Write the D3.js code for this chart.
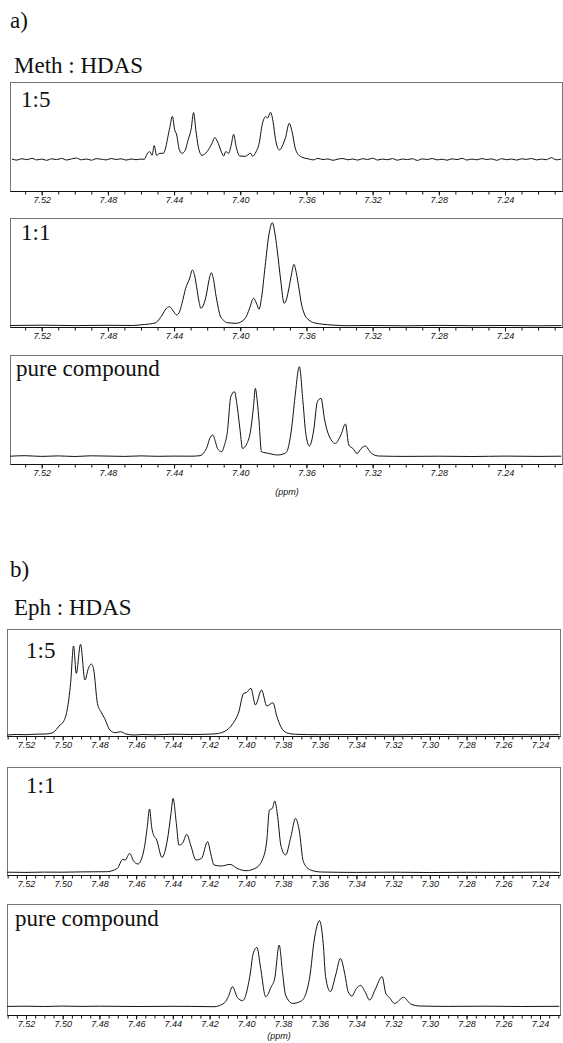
<!DOCTYPE html>
<html>
<head>
<meta charset="utf-8">
<script src="https://cdn.jsdelivr.net/npm/d3@7"></script>
<style>
    body { margin: 0; background: #fff; }
    svg { display: block; }
    .lbl { font-family: "Liberation Serif", "Times New Roman", serif; font-size: 23px; fill: #111; }
    .axis text { font-family: "Liberation Sans", Arial, sans-serif; font-style: italic; font-size: 9px; fill: #111; }
    .axis line { stroke: #111; }
    .unit { font-family: "Liberation Sans", Arial, sans-serif; font-style: italic; font-size: 9px; fill: #111; }
</style>
</head>
<body>
<div id="chart"></div>
<script>

// Tick labels (ppm)
var aTickLabels = [7.52, 7.48, 7.44, 7.40, 7.36, 7.32, 7.28, 7.24];
var bTickLabels = [7.52, 7.50, 7.48, 7.46, 7.44, 7.42, 7.40, 7.38, 7.36, 7.34, 7.32, 7.30, 7.28, 7.26, 7.24];

// a) Meth : HDAS 1:5  -- [ppm, intensity]
var methRatio15 = [
    [7.538,0.3],[7.535,-0.8],[7.532,0.6],[7.529,-0.4],[7.526,1.0],[7.523,-0.6],[7.520,0.2],[7.517,-1.0],
    [7.514,0.5],[7.511,-0.3],[7.508,0.9],[7.505,-0.7],[7.502,0.4],[7.499,1.2],[7.496,-0.5],[7.493,0.3],
    [7.490,-0.9],[7.487,0.6],[7.484,0.1],[7.481,-0.6],[7.478,0.8],[7.475,-0.2],[7.472,0.5],[7.469,-0.8],
    [7.466,0.3],[7.463,-0.4],[7.460,0.2],[7.458,0.0],
    [7.4563,5.3],[7.4548,7.7],[7.4533,4],[7.452,13.7],[7.4506,4],[7.4485,6],[7.4465,6],[7.4428,30],
    [7.441,43],[7.4397,30],[7.4384,24.3],[7.4369,10],[7.4352,6],[7.4336,8],[7.4314,20],[7.4297,30],
    [7.4282,46.7],[7.4269,30],[7.4253,12],[7.4232,4],[7.4199,8],[7.4171,16],[7.4155,21.7],[7.4133,16],
    [7.4118,9],[7.41,3.3],[7.4088,7.7],[7.407,6],[7.4055,14],[7.404,25],[7.4024,12],[7.4003,3.3],
    [7.397,3],[7.3937,6],[7.3926,3],[7.3904,7.7],[7.3887,15],[7.3867,35],[7.3846,42.7],[7.3835,41.3],
    [7.3817,47],[7.3802,38],[7.3787,20],[7.3763,9.3],[7.3741,15],[7.3726,22],[7.3704,36],[7.3686,27],
    [7.3669,12],[7.3651,5],[7.3621,1.7],
    [7.359,0.5],[7.356,-0.6],[7.353,0.9],[7.350,-0.3],[7.347,0.4],[7.344,-1.0],[7.341,0.2],[7.338,0.8],
    [7.335,-0.5],[7.332,0.3],[7.329,-0.8],[7.326,0.6],[7.323,-0.2],[7.320,1.1],[7.317,-0.7],[7.314,0.2],
    [7.311,-0.4],[7.308,0.7],[7.305,-0.9],[7.302,0.3],[7.299,-0.3],[7.296,0.6],[7.293,-1.1],[7.290,0.4],
    [7.287,-0.2],[7.284,0.8],[7.281,-0.6],[7.278,0.1],[7.275,-0.9],[7.272,0.5],[7.269,-0.3],[7.266,0.9],
    [7.263,-0.7],[7.260,0.2],[7.257,-0.5],[7.254,0.7],[7.251,-0.2],[7.248,0.4],[7.245,-1.0],[7.242,0.6],
    [7.239,-0.4],[7.236,0.3],[7.233,-0.8],[7.230,0.5],[7.227,-0.1],[7.224,0.8],[7.221,-0.6],[7.218,0.2],
    [7.215,-0.4],[7.212,1.6],[7.209,-0.5],[7.206,0.3]
];

// a) Meth : HDAS 1:1
var methRatio11 = [
    [7.539,0.5],[7.52,0.8],[7.50,0.4],[7.48,0.7],[7.465,0.5],[7.4624,0.8],[7.458,1.5],[7.4515,3],
    [7.4472,11],[7.445,17],[7.4428,19.3],[7.4405,15],[7.4384,11],[7.4365,15],[7.4352,22.7],[7.433,37.7],
    [7.4305,48],[7.429,56],[7.4275,50],[7.4264,39.3],[7.425,25],[7.4238,17.7],[7.422,22],[7.4205,31],
    [7.419,45],[7.4175,53.3],[7.416,45],[7.4149,32.7],[7.4135,20],[7.4123,11],[7.410,5.5],[7.4079,3.3],
    [7.4024,2.7],[7.397,7.7],[7.3945,17],[7.392,27.7],[7.390,22],[7.3887,16.7],[7.387,30],[7.385,59.3],
    [7.3828,90],[7.3806,103.3],[7.379,92],[7.3778,77.7],[7.3755,45],[7.3735,22.7],[7.372,27],[7.3708,36],
    [7.369,52],[7.3676,61.7],[7.366,52],[7.3647,39.3],[7.363,22],[7.361,11],[7.3585,6],[7.3556,3.3],
    [7.3446,1],[7.335,0.3],[7.32,0.5],[7.30,0.2],[7.28,0.6],[7.26,0.3],[7.24,0.5],[7.22,0.2],[7.206,0.4]
];

// a) Meth pure compound
var methPure = [
    [7.539,0.5],[7.53,1],[7.52,0.3],[7.51,0.8],[7.50,0.2],[7.49,0.9],[7.48,0.6],[7.47,0.3],[7.46,0.8],
    [7.45,0.4],[7.44,0.6],[7.43,0.5],[7.4243,1],[7.422,4],[7.42,10],[7.4185,18],[7.4166,21.7],[7.415,15],
    [7.4138,8.3],[7.4112,5],[7.4095,12],[7.4079,23.3],[7.4057,60],[7.4035,65],[7.402,52],[7.4013,43.3],
    [7.400,25],[7.3987,8.3],[7.396,13],[7.3937,26.7],[7.392,50],[7.3909,68.3],[7.3897,55],[7.3887,36.7],
    [7.3872,5],[7.3828,3.3],[7.3774,1.7],[7.3735,3],[7.3719,5],[7.3691,26.7],[7.3669,60],[7.3643,90],
    [7.3621,55],[7.3604,23.3],[7.3582,10.7],[7.3556,26.7],[7.3534,55],[7.3512,58.3],[7.349,36.7],
    [7.3469,23.3],[7.3425,13.3],[7.3392,21.7],[7.3364,32.7],[7.3344,11.7],[7.332,8.3],[7.3294,3.3],
    [7.327,8],[7.3244,10.7],[7.322,6],[7.3207,3.3],[7.3163,0.7],[7.30,0.3],[7.28,0.5],[7.26,0.2],
    [7.24,0.6],[7.22,0.3],[7.206,0.5]
];

// b) Eph : HDAS 1:5
var ephRatio15 = [
    [7.5303,0],[7.525,0.5],[7.52,0.3],[7.515,0.8],[7.5093,1],[7.5054,2.3],[7.5015,10],[7.4996,13.3],
    [7.4976,25],[7.4957,51.7],[7.4941,89],[7.4926,61.7],[7.4903,90.7],[7.4879,55],[7.486,66.7],
    [7.4844,71],[7.4831,65],[7.4811,31.7],[7.4792,23.3],[7.4772,16.7],[7.4743,5],[7.4714,2.3],
    [7.4685,3.3],[7.4656,1],[7.4607,0],[7.4568,0.5],[7.45,0.2],[7.44,0.8],[7.43,0.5],[7.418,1],
    [7.4121,3.3],[7.4072,11.7],[7.4043,21.7],[7.4014,41.7],[7.4,42.3],[7.3975,46.7],[7.395,30],
    [7.3917,45],[7.3888,29],[7.3855,32.3],[7.3833,18.3],[7.381,7.7],[7.3781,2.3],[7.3732,0.7],
    [7.36,0.3],[7.34,0.5],[7.32,0.2],[7.30,0.6],[7.28,0.3],[7.26,0.5],[7.24,0.2],[7.2295,0.4]
];

// b) Eph : HDAS 1:1
var ephRatio11 = [
    [7.5303,0.5],[7.52,0.3],[7.51,0.6],[7.50,0.5],[7.49,0.8],[7.4761,1],[7.4703,4.3],[7.4673,13.3],
    [7.466,12.7],[7.4635,19.3],[7.4615,12],[7.459,8.7],[7.4556,24.3],[7.454,45],[7.4527,63.7],
    [7.4515,45],[7.4508,39.3],[7.4488,32.7],[7.4459,15.3],[7.443,32.7],[7.441,59.3],[7.4399,74.3],
    [7.4381,49.3],[7.4367,27.7],[7.4348,29.3],[7.4324,38.3],[7.4303,27.7],[7.4274,12.7],[7.4244,14.3],
    [7.4211,31],[7.4192,17.7],[7.4176,7.7],[7.4137,6.7],[7.4088,8.3],[7.405,4.3],[7.4001,2],
    [7.3952,4.3],[7.3913,12.7],[7.3888,32.7],[7.3874,62.7],[7.3858,64.3],[7.3845,71.7],[7.3829,56],
    [7.3812,27.7],[7.3786,17.7],[7.3757,36],[7.3732,54.3],[7.3712,42.7],[7.3689,11],[7.365,2.7],
    [7.3591,0.7],[7.34,0.3],[7.32,0.5],[7.30,0.2],[7.28,0.4],[7.26,0.3],[7.24,0.5],[7.2295,0.3]
];

// b) Eph pure compound
var ephPure = [
    [7.5303,0.3],[7.52,0.5],[7.51,0.2],[7.50,0.6],[7.49,0.3],[7.48,0.5],[7.46,0.2],[7.44,0.4],[7.43,0.3],
    [7.4176,0],[7.4118,4],[7.4098,10],[7.4075,20],[7.4049,9.3],[7.402,6],[7.3981,30],[7.3962,53.3],
    [7.3942,59.3],[7.3923,40],[7.3894,10],[7.3864,20],[7.3845,28.3],[7.3821,61.7],[7.3802,33.3],
    [7.3786,11.7],[7.3747,3.3],[7.3698,6],[7.3654,30],[7.363,66.7],[7.3601,86],[7.3581,63.3],
    [7.3568,30],[7.3542,15],[7.3513,31.7],[7.3487,48.3],[7.3464,33.3],[7.3445,15],[7.3425,10.7],
    [7.34,18.3],[7.3377,21.3],[7.3353,15],[7.3328,6.7],[7.3299,16.7],[7.326,30],[7.324,13.3],
    [7.3221,9.3],[7.3192,3.3],[7.3143,9.3],[7.3104,2.7],[7.3055,0.7],[7.29,0.3],[7.27,0.5],[7.25,0.2],
    [7.2295,0.4]
];


var width = 563, height = 1043;

var svg = d3.select("#chart").append("svg")
    .attr("width", width)
    .attr("height", height);

// x scales: one per figure part (a / b have different ppm widths)
var xA = d3.scaleLinear().domain([7.52, 7.24]).range([41.7, 505]);
var xB = d3.scaleLinear().domain([7.52, 7.24]).range([26, 540]);

// panel layout
var panels = [
    { data: methRatio15, x: xA, ticks: aTickLabels, minorStep: 0.01, left: 10.5, right: 562.5, top: 82.5, axisY: 191.5, base: 159.3, label: "1:5", labelX: 21, labelY: 107 },
    { data: methRatio11, x: xA, ticks: aTickLabels, minorStep: 0.01, left: 10.5, right: 562.5, top: 218.5, axisY: 327.5, base: 326, label: "1:1", labelX: 21, labelY: 240 },
    { data: methPure,    x: xA, ticks: aTickLabels, minorStep: 0.01, left: 10.5, right: 562.5, top: 355.5, axisY: 464.5, base: 456.7, label: "pure compound", labelX: 16, labelY: 376 },
    { data: ephRatio15,  x: xB, ticks: bTickLabels, minorStep: 0.005, left: 7.5, right: 560.5, top: 629.5, axisY: 736.5, base: 735, label: "1:5", labelX: 26, labelY: 658 },
    { data: ephRatio11,  x: xB, ticks: bTickLabels, minorStep: 0.005, left: 7.5, right: 560.5, top: 767.5, axisY: 875.5, base: 872.7, label: "1:1", labelX: 26, labelY: 793 },
    { data: ephPure,     x: xB, ticks: bTickLabels, minorStep: 0.005, left: 7.5, right: 560.5, top: 904.5, axisY: 1015.5, base: 1006.7, label: "pure compound", labelX: 15, labelY: 926 }
];

panels.forEach(function(p) {
    var g = svg.append("g");

    // frame
    g.append("rect")
        .attr("x", p.left)
        .attr("y", p.top)
        .attr("width", p.right - p.left)
        .attr("height", p.axisY - p.top)
        .attr("fill", "none")
        .attr("stroke", "#777")
        .attr("stroke-width", 1);

    // y scale: intensity in px-like units above the baseline
    var maxH = d3.max(p.data, function(d) { return d[1]; });
    var y = d3.scaleLinear()
        .domain([0, maxH])
        .range([p.base, p.base - maxH]);

    var line = d3.line()
        .x(function(d) { return p.x(d[0]); })
        .y(function(d) { return y(d[1]); })
        .curve(d3.curveMonotoneX);

    g.append("path")
        .datum(p.data)
        .attr("d", line)
        .attr("fill", "none")
        .attr("stroke", "#111")
        .attr("stroke-width", 1);

    // minor ticks
    var lo = p.x.invert(p.right), hi = p.x.invert(p.left);
    var minor = d3.range(Math.ceil(lo / p.minorStep), Math.floor(hi / p.minorStep) + 1)
        .map(function(k) { return +(k * p.minorStep).toFixed(3); });

    g.append("g")
        .attr("class", "axis")
        .attr("transform", "translate(0," + p.axisY + ")")
        .call(d3.axisBottom(p.x).tickValues(minor).tickSize(3).tickSizeOuter(0).tickFormat(""))
        .select(".domain").remove();

    // labelled ticks
    g.append("g")
        .attr("class", "axis")
        .attr("transform", "translate(0," + p.axisY + ")")
        .call(d3.axisBottom(p.x).tickValues(p.ticks).tickSize(4).tickSizeOuter(0).tickPadding(1).tickFormat(d3.format(".2f")))
        .select(".domain").remove();

    // axis line
    g.append("line")
        .attr("x1", p.left).attr("x2", p.right)
        .attr("y1", p.axisY).attr("y2", p.axisY)
        .attr("stroke", "#111")
        .attr("stroke-width", 1.2);

    g.append("text")
        .attr("class", "lbl")
        .attr("x", p.labelX)
        .attr("y", p.labelY)
        .text(p.label);
});

// titles
svg.append("text").attr("class", "lbl").attr("x", 10).attr("y", 28).text("a)");
svg.append("text").attr("class", "lbl").attr("x", 14).attr("y", 73).text("Meth : HDAS");
svg.append("text").attr("class", "lbl").attr("x", 10).attr("y", 577).text("b)");
svg.append("text").attr("class", "lbl").attr("x", 14).attr("y", 615).text("Eph : HDAS");

// ppm unit labels
svg.append("text").attr("class", "unit").attr("x", 287).attr("y", 495).attr("text-anchor", "middle").text("(ppm)");
svg.append("text").attr("class", "unit").attr("x", 279).attr("y", 1039).attr("text-anchor", "middle").text("(ppm)");

</script>
</body>
</html>
